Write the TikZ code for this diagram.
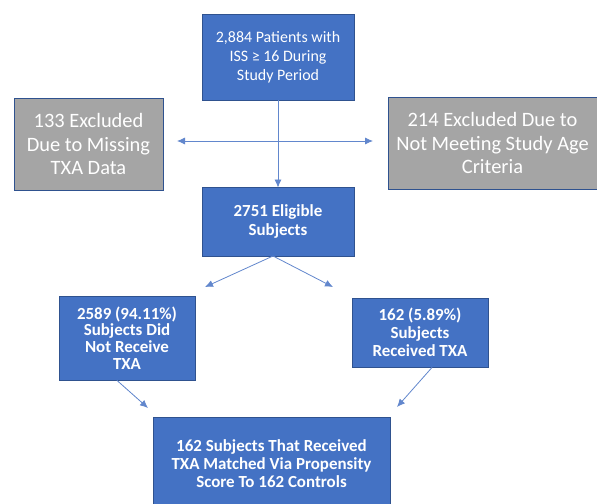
\documentclass[tikz,border=0pt]{standalone}
\usepackage{fontspec}
\setmainfont{Carlito}
\usetikzlibrary{arrows.meta}
\definecolor{boxblue}{RGB}{68,114,196}
\definecolor{edgeblue}{RGB}{47,82,143}
\definecolor{boxgray}{RGB}{165,165,165}
\definecolor{lineblue}{RGB}{98,135,205}

\begin{document}
\begin{tikzpicture}[x=1bp,y=-1bp,
  bluebox/.style={draw=edgeblue,fill=boxblue,text=white,align=center,inner sep=0pt,line width=0.9bp},
  graybox/.style={draw=edgeblue,fill=boxgray,text=white,align=center,inner sep=0pt,line width=0.9bp,font=\fontsize{20.5}{24}\selectfont},
  link/.style={draw=lineblue,line width=0.8bp,>={Latex[length=8bp,width=7bp]}}]
\useasboundingbox (0,0) rectangle (597,504);
\fill[white] (0,0) rectangle (597,504);
% boxes
\node[bluebox,minimum width=152bp,minimum height=86bp,font=\fontsize{16}{19}\selectfont] (patients) at (278,57) {2,884 Patients with\\ISS ≥ 16 During\\Study Period};
\node[graybox,minimum width=149bp,minimum height=92bp] (missing) at (88.5,144) {133 Excluded\\Due to Missing\\TXA Data};
\node[graybox,minimum width=209bp,minimum height=92bp] (agecrit) at (492.5,143) {214 Excluded Due to\\Not Meeting Study Age\\Criteria};
\node[bluebox,minimum width=152bp,minimum height=69bp,font=\bfseries\fontsize{17}{19}\selectfont] (eligible) at (278,221.5) {2751 Eligible\\Subjects};
\node[bluebox,minimum width=136bp,minimum height=84bp,font=\bfseries\fontsize{17}{16.7}\selectfont] (notxa) at (127,338) {2589 (94.11\%)\\Subjects Did\\Not Receive\\TXA};
\node[bluebox,minimum width=136bp,minimum height=69bp,font=\bfseries\fontsize{17}{18}\selectfont] (gottxa) at (420,332.5) {162 (5.89\%)\\Subjects\\Received TXA};
\node[bluebox,minimum width=237bp,minimum height=94bp,font=\bfseries\fontsize{17}{18}\selectfont] (matched) at (271.5,464) {162 Subjects That Received\\TXA Matched Via Propensity\\Score To 162 Controls};
% connectors
\coordinate (hleft) at (177,141);
\coordinate (hright) at (373,141);
\coordinate (split) at (273,256);
\coordinate (aleft) at (205,287);
\coordinate (aright) at (333,287);
\coordinate (mleft) at (148,408);
\coordinate (mright) at (397,407);
\draw[link,<->] (hleft) -- (hright);
\draw[link,->] (patients.south) -- ([yshift=-1bp]eligible.north);
\draw[link,->] (split) -- (aleft);
\draw[link,->] (split) -- (aright);
\draw[link,->] (notxa.south) ++(-10,0) -- (mleft);
\draw[link,->] (gottxa.south) ++(12,0) -- (mright);
\end{tikzpicture}
\end{document}
